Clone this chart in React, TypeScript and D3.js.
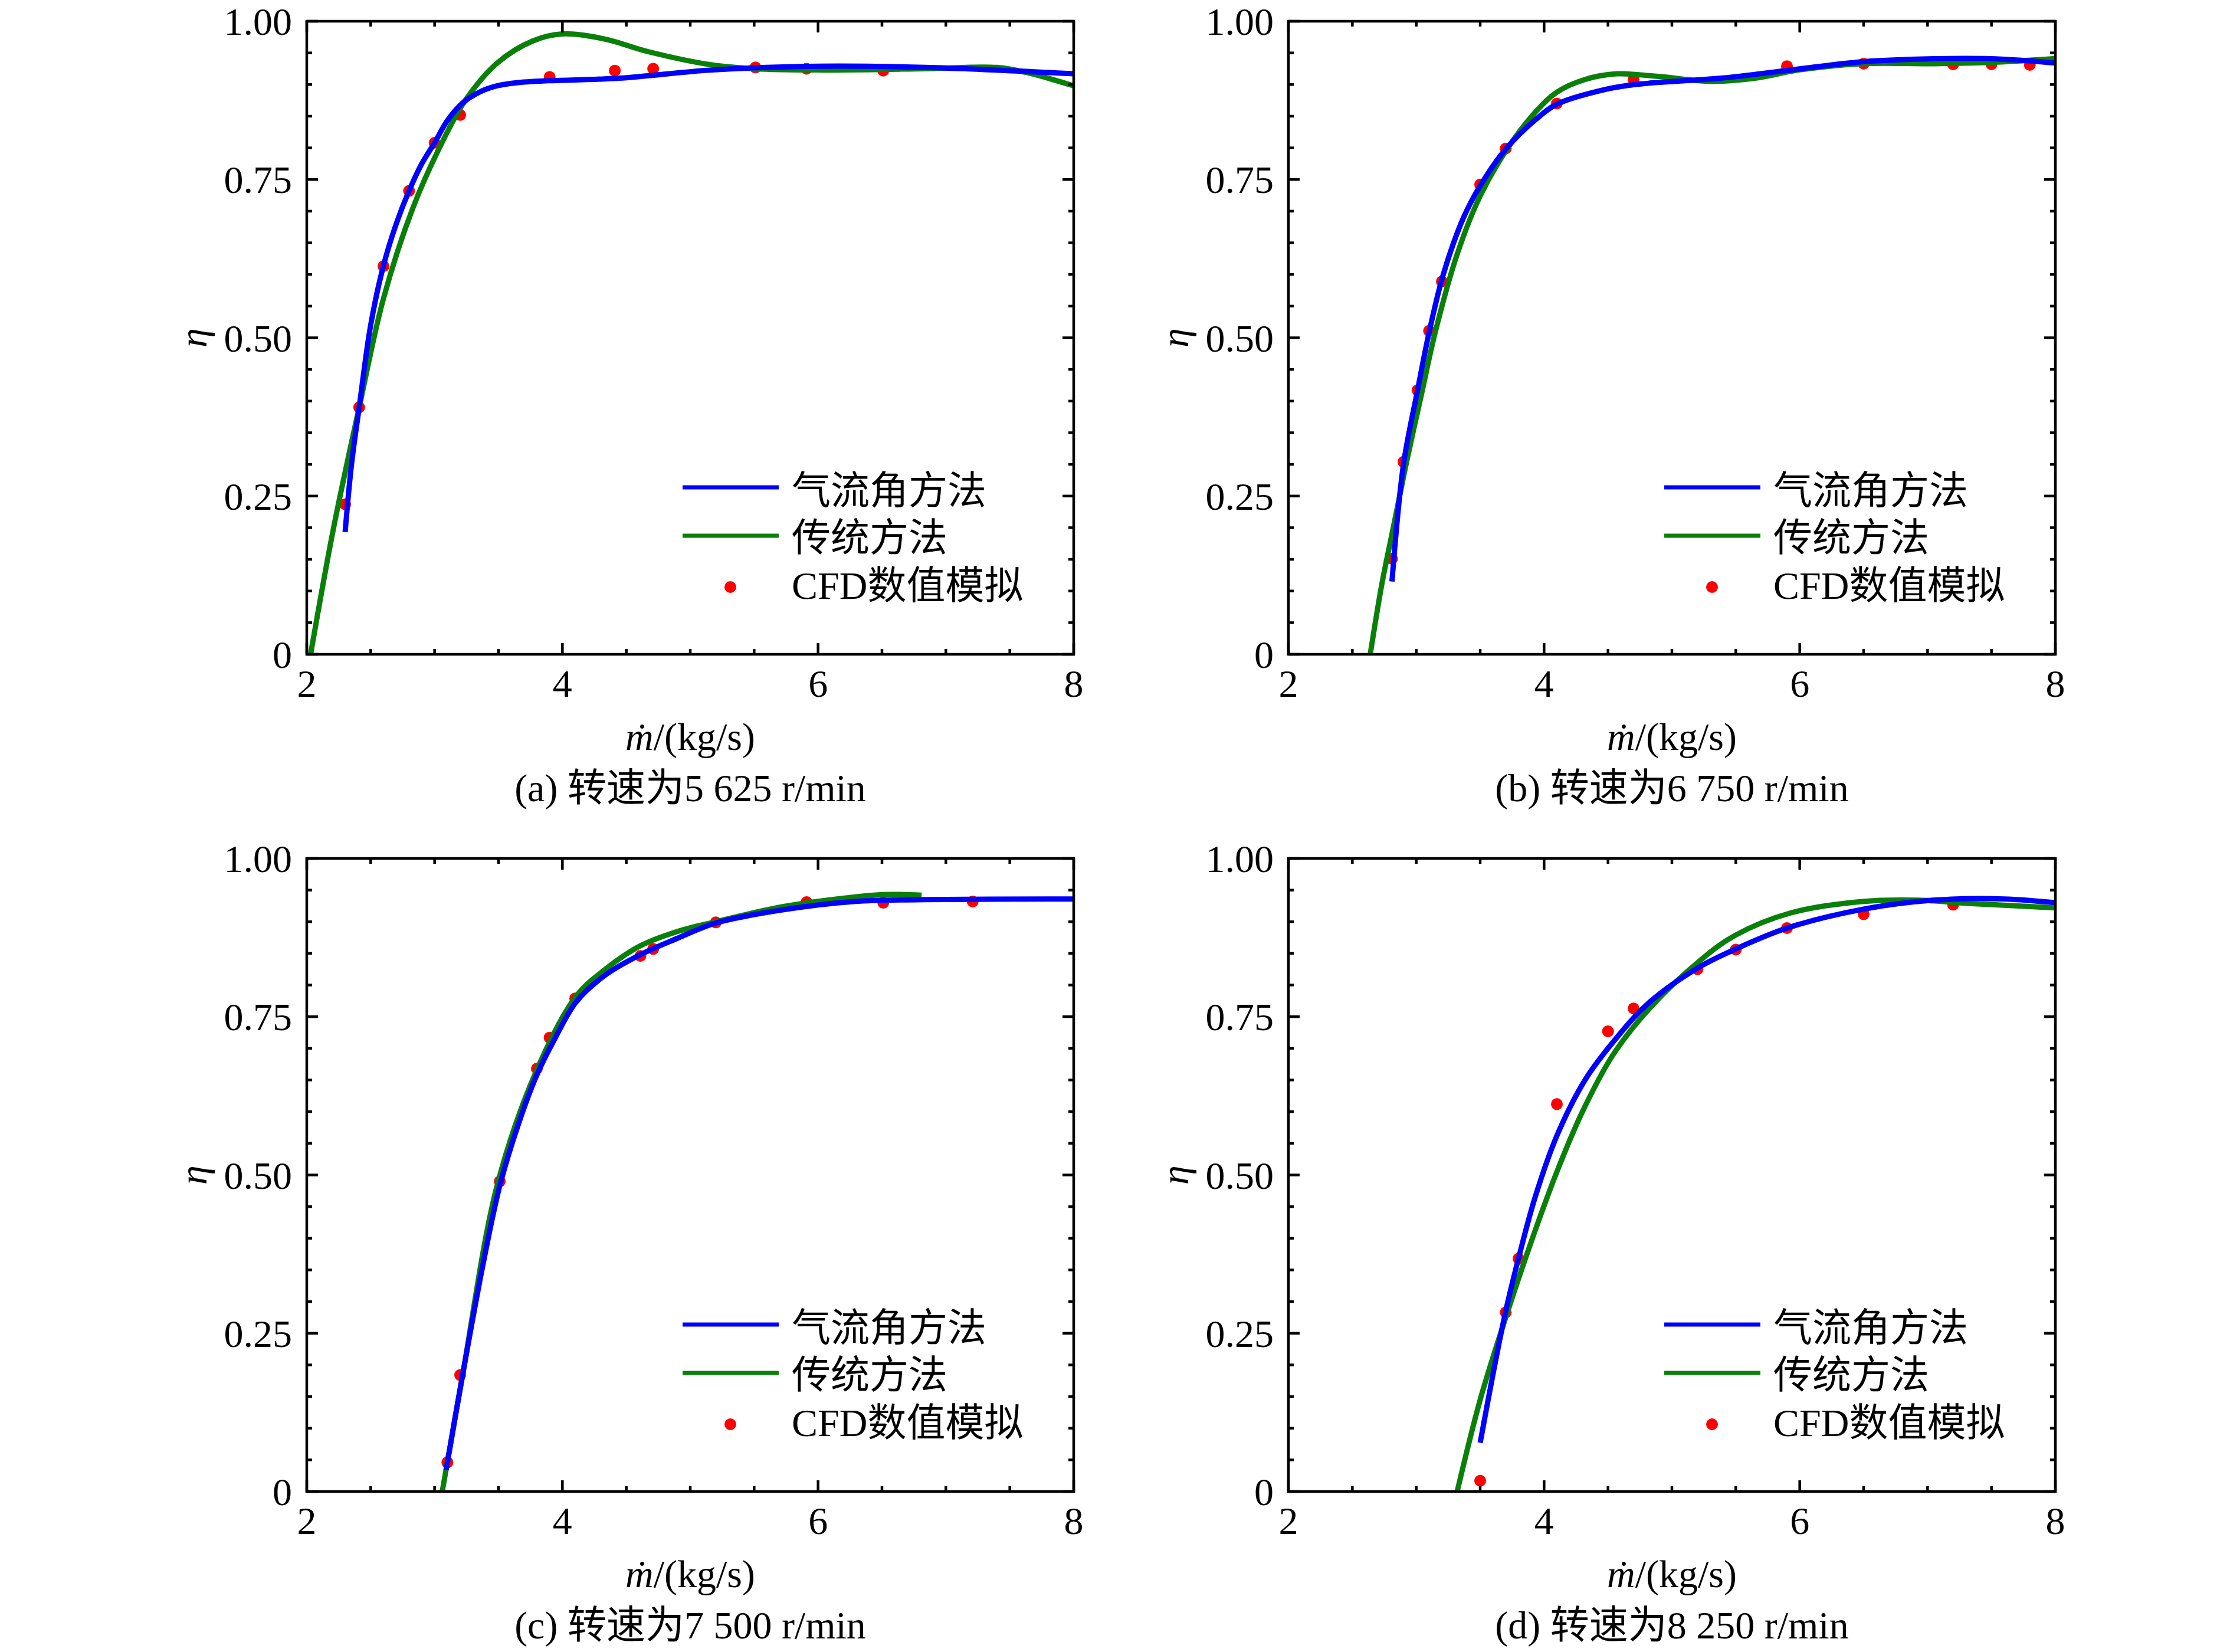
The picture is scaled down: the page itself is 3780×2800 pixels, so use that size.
import React from "react";
import * as d3 from "d3";

// ---------- data ----------
const xTickValues = [2, 4, 6, 8];
const yTickValues = [0, 0.25, 0.5, 0.75, 1.0];
const yTickLabels = ["0", "0.25", "0.50", "0.75", "1.00"];
const legendLabels = ["气流角方法", "传统方法", "CFD数值模拟"];
const captions = [
  "(a) 转速为5 625 r/min",
  "(b) 转速为6 750 r/min",
  "(c) 转速为7 500 r/min",
  "(d) 转速为8 250 r/min",
];

// panel (a) 5 625 r/min
const aFlowAngle: [number, number][] = [
  [2.3, 0.193], [2.35, 0.3], [2.41, 0.39], [2.5, 0.52], [2.6, 0.614], [2.7, 0.68],
  [2.8, 0.732], [2.9, 0.775], [3.0, 0.808], [3.1, 0.843], [3.22, 0.871], [3.35, 0.888],
  [3.49, 0.898], [3.7, 0.904], [3.89, 0.906], [4.44, 0.91], [5.17, 0.923], [6.0, 0.929],
  [6.84, 0.927], [8.0, 0.917],
];
const aTraditional: [number, number][] = [
  [2.03, 0.0], [2.21, 0.2], [2.41, 0.39], [2.6, 0.562], [2.83, 0.705], [3.05, 0.805],
  [3.24, 0.875], [3.49, 0.934], [3.77, 0.969], [4.0, 0.98], [4.33, 0.972], [4.67, 0.952],
  [5.17, 0.931], [5.5, 0.925], [6.0, 0.923], [6.84, 0.925], [7.4, 0.927], [7.65, 0.918],
  [8.0, 0.898],
];
const aCFD: [number, number][] = [
  [2.3, 0.237], [2.41, 0.39], [2.6, 0.613], [2.8, 0.732], [3.0, 0.808], [3.2, 0.852],
  [3.9, 0.912], [4.41, 0.922], [4.71, 0.925], [5.51, 0.927], [5.91, 0.925], [6.51, 0.922],
];

// panel (b) 6 750 r/min
const bFlowAngle: [number, number][] = [
  [2.81, 0.115], [2.9, 0.3], [3.01, 0.417], [3.1, 0.508], [3.21, 0.599], [3.37, 0.69],
  [3.5, 0.74], [3.7, 0.798], [3.93, 0.844], [4.1, 0.869], [4.43, 0.89], [4.71, 0.9],
  [5.38, 0.91], [5.93, 0.923], [6.49, 0.936], [7.16, 0.941], [7.6, 0.94], [8.0, 0.934],
];
const bTraditional: [number, number][] = [
  [2.64, 0.0], [2.73, 0.11], [2.82, 0.2], [2.92, 0.3], [3.04, 0.41], [3.15, 0.51],
  [3.32, 0.632], [3.5, 0.724], [3.71, 0.798], [3.93, 0.856], [4.1, 0.888], [4.32, 0.908],
  [4.57, 0.917], [4.88, 0.913], [5.32, 0.905], [5.65, 0.91], [5.99, 0.923], [6.49, 0.933],
  [7.05, 0.933], [7.6, 0.936], [8.0, 0.941],
];
const bCFD: [number, number][] = [
  [2.81, 0.151], [2.9, 0.304], [3.01, 0.417], [3.1, 0.511], [3.2, 0.589], [3.5, 0.742],
  [3.7, 0.799], [4.1, 0.87], [4.7, 0.908], [5.9, 0.929], [6.5, 0.933], [7.2, 0.932],
  [7.5, 0.932], [7.8, 0.931],
];

// panel (c) 7 500 r/min
const cFlowAngle: [number, number][] = [
  [3.09, 0.034], [3.22, 0.185], [3.38, 0.36], [3.51, 0.483], [3.66, 0.583], [3.8, 0.658],
  [3.94, 0.715], [4.11, 0.774], [4.33, 0.815], [4.61, 0.848], [4.89, 0.873], [5.2, 0.898],
  [5.73, 0.919], [6.28, 0.932], [6.84, 0.935], [8.0, 0.936],
];
const cTraditional: [number, number][] = [
  [3.06, 0.0], [3.22, 0.185], [3.49, 0.484], [3.8, 0.666], [4.11, 0.783], [4.33, 0.824],
  [4.61, 0.862], [4.89, 0.884], [5.2, 0.9], [5.73, 0.924], [6.28, 0.939], [6.51, 0.943],
  [6.81, 0.942],
];
const cCFD: [number, number][] = [
  [3.1, 0.046], [3.2, 0.184], [3.51, 0.49], [3.8, 0.668], [3.9, 0.717], [4.1, 0.779],
  [4.61, 0.846], [4.71, 0.857], [5.2, 0.899], [5.91, 0.931], [6.51, 0.93], [7.21, 0.932],
];

// panel (d) 8 250 r/min
const dFlowAngle: [number, number][] = [
  [3.5, 0.077], [3.6, 0.185], [3.7, 0.285], [3.82, 0.384], [3.93, 0.465], [4.1, 0.562],
  [4.32, 0.65], [4.54, 0.71], [4.82, 0.772], [5.21, 0.828], [5.5, 0.857], [5.9, 0.89],
  [6.5, 0.92], [7.04, 0.934], [7.6, 0.936], [8.0, 0.93],
];
const dTraditional: [number, number][] = [
  [3.32, 0.0], [3.5, 0.145], [3.7, 0.275], [3.9, 0.395], [4.1, 0.505], [4.3, 0.6],
  [4.54, 0.69], [4.82, 0.762], [5.21, 0.837], [5.49, 0.878], [5.93, 0.914], [6.49, 0.932],
  [6.93, 0.934], [7.32, 0.929], [8.0, 0.922],
];
const dCFD: [number, number][] = [
  [3.5, 0.017], [3.7, 0.283], [3.8, 0.368], [4.1, 0.612], [4.5, 0.727], [4.7, 0.763],
  [5.2, 0.825], [5.5, 0.856], [5.9, 0.89], [6.5, 0.912], [7.2, 0.927],
];

const panelFlowAngle = [aFlowAngle, bFlowAngle, cFlowAngle, dFlowAngle];
const panelTraditional = [aTraditional, bTraditional, cTraditional, dTraditional];
const panelCFD = [aCFD, bCFD, cCFD, dCFD];

// ---------- layout ----------
const W = 3780;
const H = 2800;
const PW = 1300;
const PH = 1073;
const lefts = [520, 2184, 520, 2184];
const tops = [36, 36, 1455, 1455];
const FONT = "'Liberation Serif','Times New Roman','Noto Sans CJK SC',serif";
const FS = 66;
const BLUE = "#0000ff";
const GREEN = "#0a800a";
const RED = "#ff0000";

function Panel({ idx }: { idx: number }) {
  const L = lefts[idx];
  const T = tops[idx];
  const x = d3.scaleLinear().domain([2, 8]).range([0, PW]);
  const y = d3.scaleLinear().domain([0, 1]).range([PH, 0]);
  const line = d3
    .line<[number, number]>()
    .x((d) => x(d[0]))
    .y((d) => y(d[1]))
    .curve(d3.curveCatmullRom.alpha(0.5));
  const xMinor = d3.range(2, 8.001, 0.5);
  const yMinor = d3.range(0, 1.0001, 0.05);
  const clipId = `clip${idx}`;
  const isMajorX = (v: number) => Math.abs(v / 2 - Math.round(v / 2)) < 1e-6;
  const isMajorY = (v: number) => Math.abs(v / 0.25 - Math.round(v / 0.25)) < 1e-6;

  return (
    <g transform={`translate(${L},${T})`}>
      <defs>
        <clipPath id={clipId}>
          <rect x={0} y={0} width={PW} height={PH} />
        </clipPath>
      </defs>
      <g clipPath={`url(#${clipId})`}>
        {panelCFD[idx].map((d, i) => (
          <circle key={i} cx={x(d[0])} cy={y(d[1])} r={10} fill={RED} />
        ))}
        <path d={line(panelTraditional[idx]) || ""} fill="none" stroke={GREEN} strokeWidth={9} strokeLinejoin="round" />
        <path d={line(panelFlowAngle[idx]) || ""} fill="none" stroke={BLUE} strokeWidth={9} strokeLinejoin="round" />
      </g>
      {/* ticks */}
      {xMinor.map((v, i) => {
        const len = isMajorX(v) ? 19 : 9;
        return (
          <g key={"xt" + i}>
            <line x1={x(v)} x2={x(v)} y1={PH} y2={PH - len} stroke="#000" strokeWidth={4.5} />
            <line x1={x(v)} x2={x(v)} y1={0} y2={len} stroke="#000" strokeWidth={4.5} />
          </g>
        );
      })}
      {yMinor.map((v, i) => {
        const len = isMajorY(v) ? 19 : 9;
        return (
          <g key={"yt" + i}>
            <line x1={0} x2={len} y1={y(v)} y2={y(v)} stroke="#000" strokeWidth={4.5} />
            <line x1={PW} x2={PW - len} y1={y(v)} y2={y(v)} stroke="#000" strokeWidth={4.5} />
          </g>
        );
      })}
      <rect x={0} y={0} width={PW} height={PH} fill="none" stroke="#000" strokeWidth={4.5} />
      {/* tick labels */}
      {xTickValues.map((v) => (
        <text key={"xl" + v} x={x(v)} y={PH + 72} textAnchor="middle" fontFamily={FONT} fontSize={FS}>
          {v}
        </text>
      ))}
      {yTickValues.map((v, i) => (
        <text key={"yl" + v} x={-25} y={y(v) + 23} textAnchor="end" fontFamily={FONT} fontSize={FS}>
          {yTickLabels[i]}
        </text>
      ))}
      {/* axis titles */}
      <text x={PW / 2} y={PH + 139} textAnchor="middle" dominantBaseline="central" fontFamily={FONT} fontSize={FS}>
        <tspan fontStyle="italic">ṁ</tspan>
        <tspan>/(kg/s)</tspan>
      </text>
      <text
        transform={`translate(${-193},${PH / 2}) rotate(-90)`}
        textAnchor="middle"
        dominantBaseline="central"
        fontFamily={FONT}
        fontSize={FS}
        fontStyle="italic"
      >
        η
      </text>
      <text x={PW / 2} y={PH + 226} textAnchor="middle" dominantBaseline="central" fontFamily={FONT} fontSize={FS}>
        {captions[idx]}
      </text>
      {/* legend */}
      <line x1={637} x2={800} y1={790} y2={790} stroke={BLUE} strokeWidth={7} />
      <line x1={637} x2={800} y1={872} y2={872} stroke={GREEN} strokeWidth={7} />
      <circle cx={718} cy={959} r={10} fill={RED} />
      {legendLabels.map((t, i) => (
        <text key={t} x={822} y={[795, 875, 956][i]} dominantBaseline="central" fontFamily={FONT} fontSize={FS}>
          {t}
        </text>
      ))}
    </g>
  );
}

export default function App() {
  return (
    <svg
      width={W}
      height={H}
      viewBox={`0 0 ${W} ${H}`}
      style={{ position: "absolute", left: 0, top: 0, background: "#fff", display: "block" }}
    >
      <rect x={0} y={0} width={W} height={H} fill="#fff" />
      {[0, 1, 2, 3].map((i) => (
        <Panel key={i} idx={i} />
      ))}
    </svg>
  );
}
